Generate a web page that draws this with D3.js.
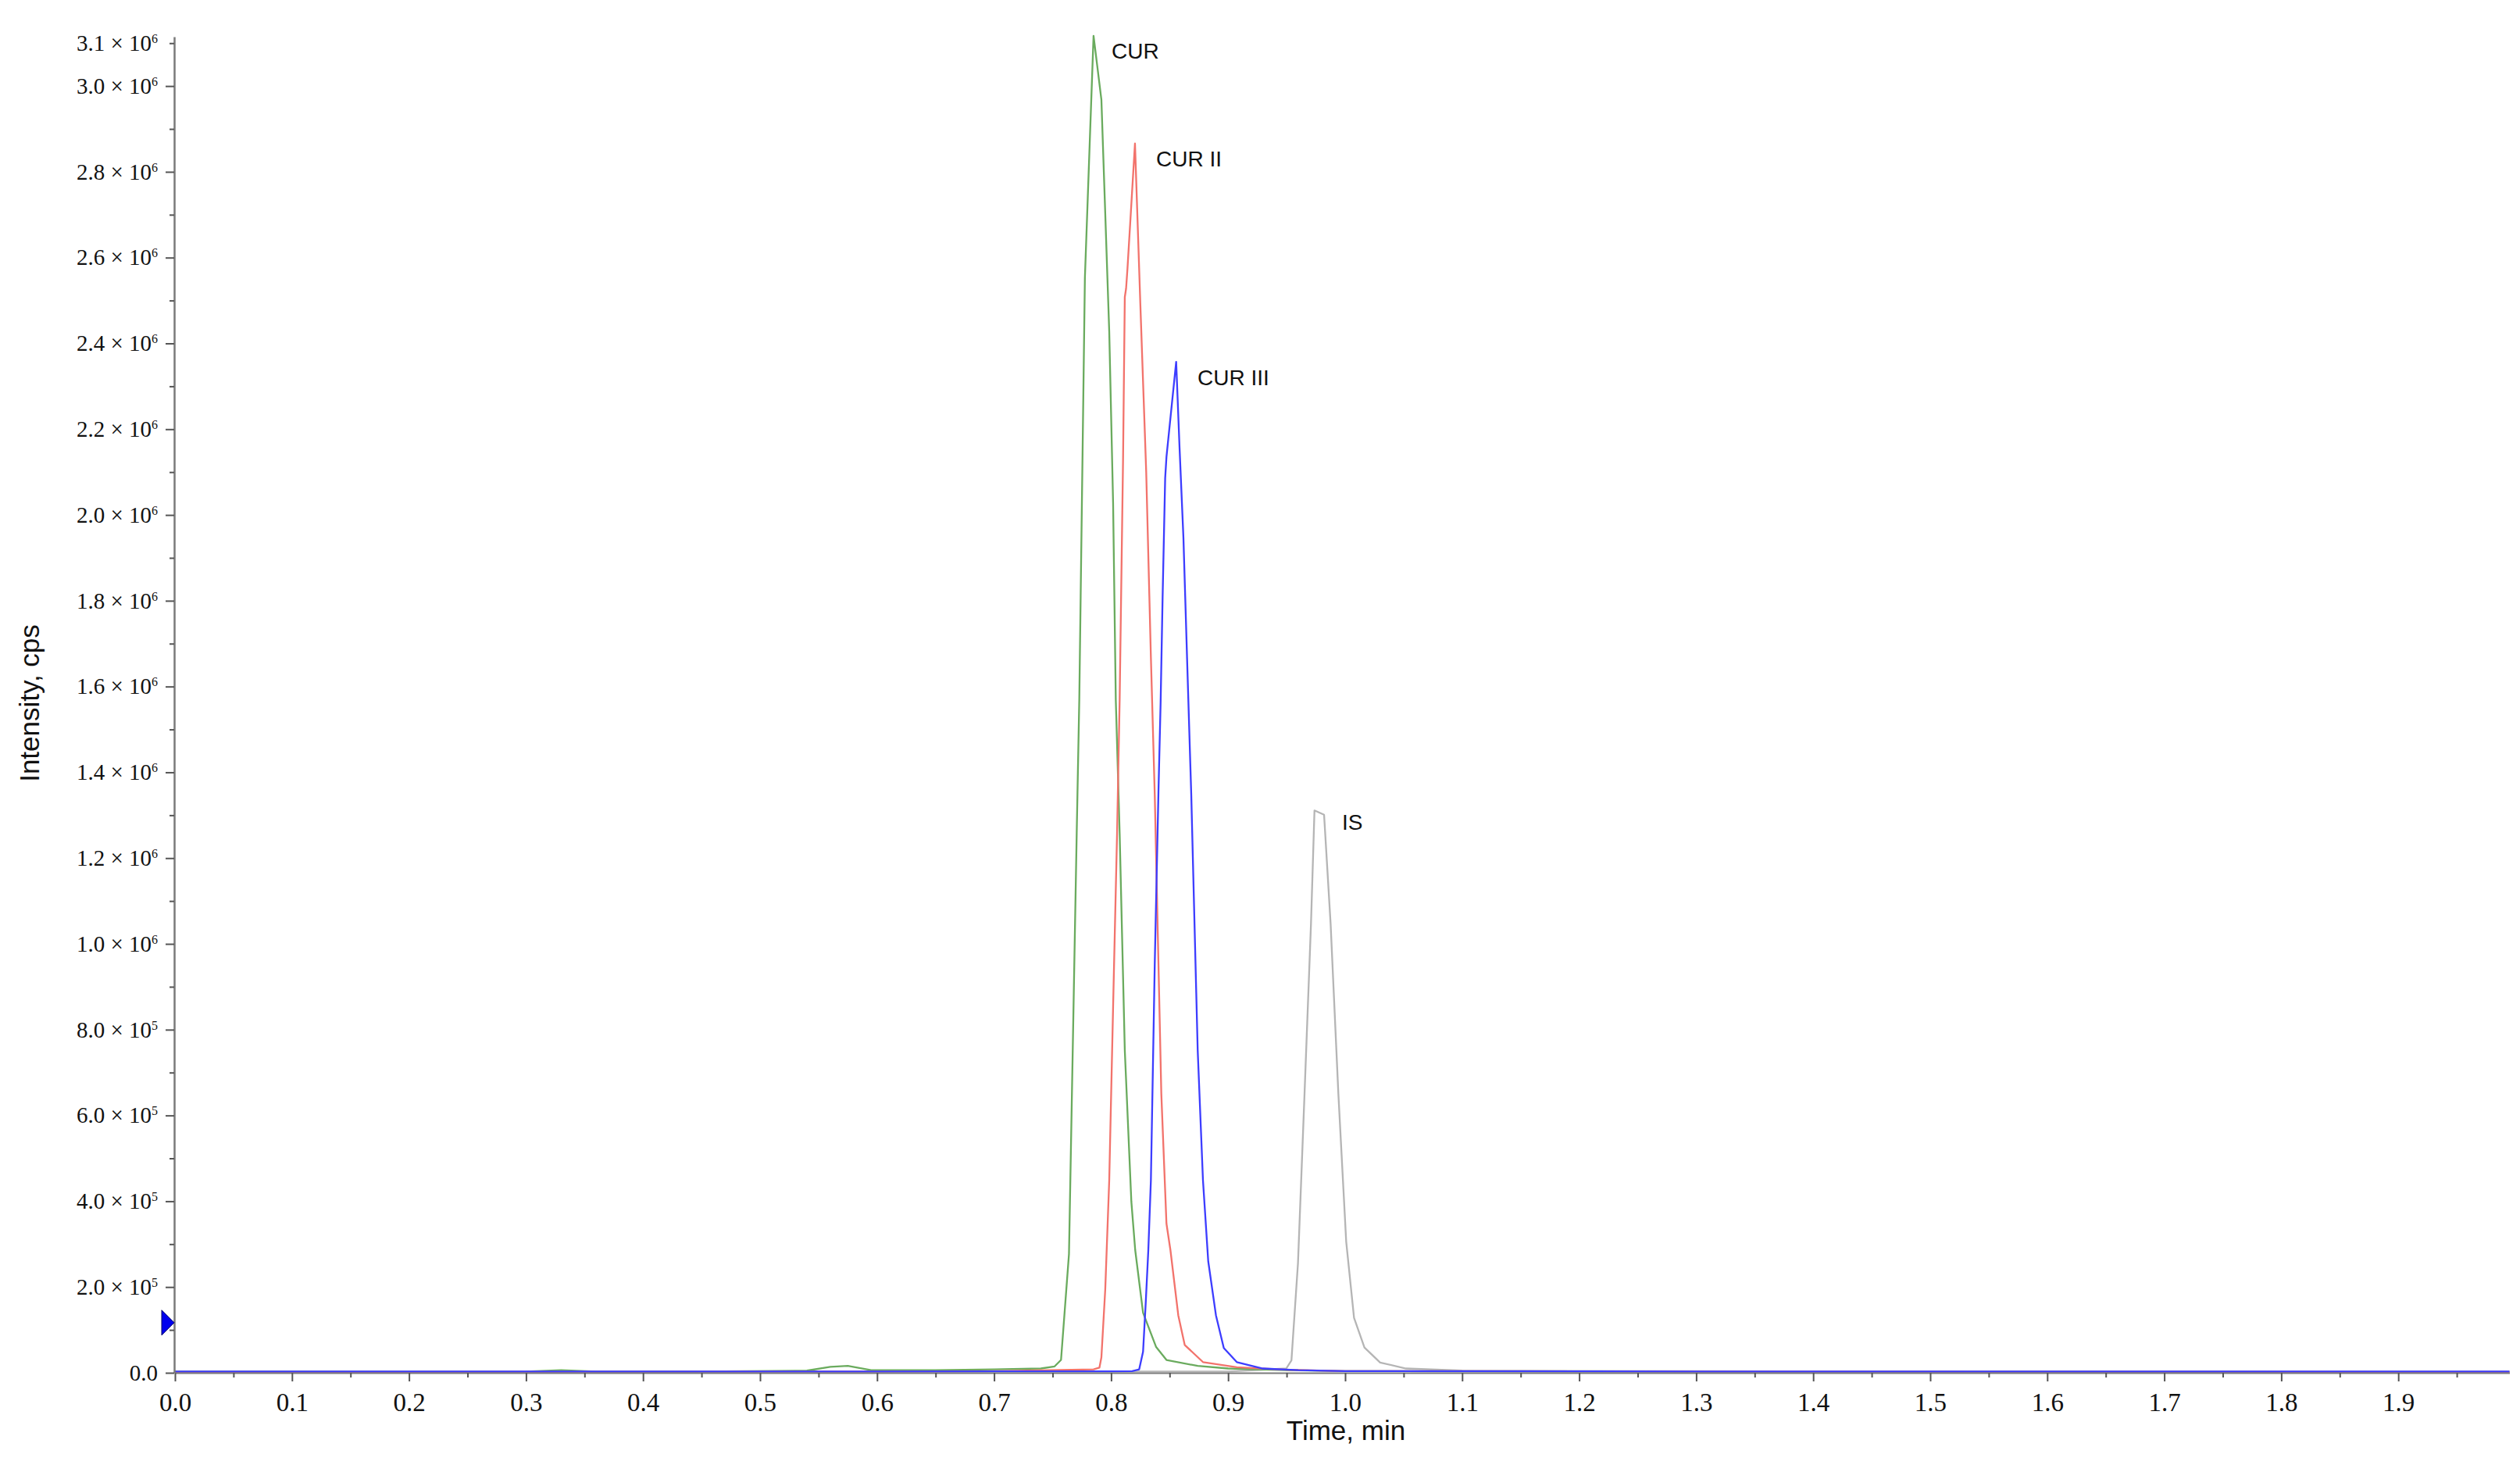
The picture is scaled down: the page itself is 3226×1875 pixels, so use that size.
<!DOCTYPE html>
<html><head><meta charset="utf-8">
<script src="https://cdn.jsdelivr.net/npm/d3@7"></script>
<style>body{margin:0;background:#fff}</style>
</head><body>
<svg id="c" width="3226" height="1875"></svg>
<script>
// ---------- data (time in min, intensity in cps) ----------
const curTime = [0.000,0.100,0.200,0.300,0.330,0.360,0.450,0.540,0.560,0.575,0.595,0.650,0.700,0.740,0.7517,0.7572,0.7640,0.7672,0.7706,0.7728,0.7776,0.7850,0.7917,0.7984,0.8017,0.8040,0.8073,0.8117,0.8173,0.8206,0.8273,0.8385,0.8473,0.8740,0.9000,0.9500,1.000,1.200,1.500,1.800,1.995];
const curIntensity = [3000,3000,2500,3000,6000,3000,3000,5000,14000,16000,6000,6000,8000,10000,15000,30000,277000,752000,1258000,1569000,2553000,3117000,2968000,2428000,2028000,1569000,1258000,752000,399000,286000,140000,60000,30000,16000,10000,6000,4000,3000,3000,2000,2000];

const cur2Time = [0.000,0.200,0.400,0.600,0.700,0.7850,0.7900,0.7917,0.7950,0.7984,0.8017,0.8051,0.8073,0.8102,0.8117,0.8128,0.8140,0.8204,0.8250,0.8300,0.8340,0.8373,0.8429,0.8473,0.8507,0.8574,0.8629,0.8785,0.9074,0.9500,1.000,1.300,1.600,1.995];
const cur2Intensity = [2000,2000,2500,3000,4000,8000,12000,36000,195000,449000,853000,1258000,1569000,2128000,2508000,2528000,2575000,2866000,2490000,2100000,1668000,1347000,651000,348000,286000,134000,65000,25000,13000,7000,4000,3000,2500,2000];

const cur3Time = [0.000,0.200,0.400,0.600,0.800,0.8180,0.8240,0.8273,0.8296,0.8318,0.8340,0.8373,0.8405,0.8423,0.8440,0.8462,0.8473,0.8556,0.8585,0.8618,0.8652,0.8685,0.8740,0.8785,0.8830,0.8896,0.8963,0.9074,0.9297,0.9600,1.000,1.300,1.600,1.995];
const cur3Intensity = [3000,3000,3000,3000,3500,4000,8000,49000,164000,286000,449000,954000,1359000,1561000,1807000,2086000,2135000,2357000,2156000,1947000,1640000,1347000,752000,449000,260000,134000,58000,25000,10000,6000,4000,3000,3000,3000];

const isTime = [0.000,0.300,0.600,0.900,0.9497,0.9541,0.9597,0.9653,0.9708,0.9738,0.9820,0.9876,0.9942,1.0009,1.0076,1.0165,1.0299,1.0520,1.100,1.400,1.700,1.995];
const isIntensity = [2500,2500,3000,3000,10000,29000,256000,651000,1046000,1311000,1301000,1046000,651000,306000,128000,59000,24000,10000,5000,3000,3000,2500];

const seriesNames = ["IS","CUR","CUR II","CUR III"];
const peakLabels = ["CUR","CUR II","CUR III","IS"];
const labelTimes = [0.8004,0.8385,0.8738,0.9973];
const labelIntensities = [3064000,2812000,2302000,1266000];

const xTickValues = [0.0,0.1,0.2,0.3,0.4,0.5,0.6,0.7,0.8,0.9,1.0,1.1,1.2,1.3,1.4,1.5,1.6,1.7,1.8,1.9];
const xMinorTicks = [0.05,0.15,0.25,0.35,0.45,0.55,0.65,0.75,0.85,0.95,1.05,1.15,1.25,1.35,1.45,1.55,1.65,1.75,1.85,1.95];
const yTickValues = [0,200000,400000,600000,800000,1000000,1200000,1400000,1600000,1800000,2000000,2200000,2400000,2600000,2800000,3000000,3100000];
const yMinorTicks = [100000,300000,500000,700000,900000,1100000,1300000,1500000,1700000,1900000,2100000,2300000,2500000,2700000,2900000];
const thresholdMarker = 117000;

// ---------- drawing ----------
const svg = d3.select('#c');
const x = d3.scaleLinear().domain([0, 1.995]).range([224, 3212.5]);
const y = d3.scaleLinear().domain([0, 3.115e6]).range([1757, 47]);

const seriesData = {
  "IS":      {t: isTime,   v: isIntensity,   color: "#b5b5b5"},
  "CUR":     {t: curTime,  v: curIntensity,  color: "#6aab5e"},
  "CUR II":  {t: cur2Time, v: cur2Intensity, color: "#f2736c"},
  "CUR III": {t: cur3Time, v: cur3Intensity, color: "#3d3dff"}
};

const line = d3.line().x(d => x(d[0])).y(d => y(d[1]));
seriesNames.forEach(name => {
  const s = seriesData[name];
  const pts = s.t.map((t, i) => [t, s.v[i]]);
  svg.append('path').datum(pts)
    .attr('d', line)
    .attr('fill', 'none')
    .attr('stroke', s.color)
    .attr('stroke-width', 2.3)
    .attr('stroke-linejoin', 'round');
});

// X axis
const serif = "'Liberation Serif','Times New Roman',serif";
const sans = "'Liberation Sans',Arial,sans-serif";

const xAxis = svg.append('g').attr('transform', 'translate(0,1757)')
  .call(d3.axisBottom(x).tickValues(xTickValues).tickSize(11).tickSizeOuter(0).tickPadding(15).tickFormat(d3.format('.1f')));
xAxis.select('.domain').attr('stroke', '#7a7a7a').attr('stroke-width', 2);
xAxis.selectAll('.tick line').attr('stroke', '#555').attr('stroke-width', 2);
xAxis.selectAll('.tick text').attr('font-family', serif).attr('font-size', 33).attr('fill', '#111');
const xMinor = svg.append('g').attr('transform', 'translate(0,1757)')
  .call(d3.axisBottom(x).tickValues(xMinorTicks).tickSize(6).tickSizeOuter(0).tickFormat(''));
xMinor.select('.domain').remove();
xMinor.selectAll('.tick line').attr('stroke', '#555').attr('stroke-width', 2);

// Y axis
const yAxis = svg.append('g').attr('transform', 'translate(223,0)')
  .call(d3.axisLeft(y).tickValues(yTickValues).tickSize(11).tickSizeOuter(0).tickPadding(10).tickFormat(''));
yAxis.select('.domain').attr('stroke', '#7a7a7a').attr('stroke-width', 2.5);
yAxis.selectAll('.tick line').attr('stroke', '#555').attr('stroke-width', 2)
  .attr('x2', d => d === 3100000 ? -6 : -11);
yAxis.selectAll('.tick text').each(function(d) {
  const t = d3.select(this).attr('font-family', serif).attr('font-size', 29).attr('fill', '#111');
  if (d === 0) { t.text('0.0'); return; }
  const e = Math.floor(Math.log10(d) + 1e-9);
  const m = (d / Math.pow(10, e)).toFixed(1);
  t.append('tspan').text(m + ' \u00d7 10');
  t.append('tspan').attr('font-size', 16).attr('dy', -10).text(e);
});
const yMinor = svg.append('g').attr('transform', 'translate(223,0)')
  .call(d3.axisLeft(y).tickValues(yMinorTicks).tickSize(6).tickSizeOuter(0).tickFormat(''));
yMinor.select('.domain').remove();
yMinor.selectAll('.tick line').attr('stroke', '#555').attr('stroke-width', 2);

// threshold marker
const my = y(thresholdMarker);
svg.append('path')
  .attr('d', `M207,${my-16}L223,${my}L207,${my+16}Z`)
  .attr('fill', '#0000ee').attr('stroke', '#000066').attr('stroke-width', 1);

// axis titles
svg.append('text').attr('x', 1723).attr('y', 1843).attr('text-anchor', 'middle')
  .attr('font-family', sans).attr('font-size', 35).attr('fill', '#111').text('Time, min');
svg.append('text').attr('transform', 'translate(50,900) rotate(-90)').attr('text-anchor', 'middle')
  .attr('font-family', sans).attr('font-size', 35).attr('fill', '#111').text('Intensity, cps');

// peak labels
peakLabels.forEach((lab, i) => {
  svg.append('text').attr('x', x(labelTimes[i])).attr('y', y(labelIntensities[i]))
    .attr('font-family', sans).attr('font-size', 28).attr('fill', '#111').text(lab);
});
</script>
</body></html>
